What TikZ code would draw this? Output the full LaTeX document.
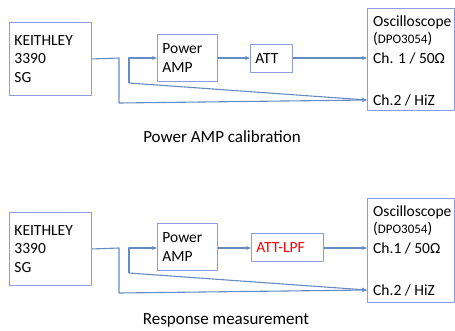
\documentclass[tikz,border=0pt]{standalone}
\usepackage{fontspec}
\setmainfont{Carlito}
\usetikzlibrary{arrows.meta,positioning}
\definecolor{boxblue}{RGB}{140,155,230}
\definecolor{wireblue}{RGB}{100,140,195}
\newcommand{\dpomodel}{({\fontsize{13}{14}\selectfont DPO3054})}
\tikzset{blk/.style={draw=boxblue,line width=0.9pt,anchor=north west,inner ysep=0pt,inner xsep=5pt,align=left},
  wire/.style={draw=wireblue,line width=1.1pt},
  port/.style={anchor=west,inner xsep=6pt,inner ysep=0pt},
  capt/.style={font=\fontsize{17}{20}\selectfont}}

\begin{document}
\begin{tikzpicture}[x=1pt,y=-1pt,>={Stealth[length=5pt,width=4pt]},line join=round,font=\fontsize{15.5}{18.5}\selectfont]
\useasboundingbox (0,0) rectangle (455,330);
% --- upper: power amp calibration
\begin{scope}
\node[blk,text width=72pt,minimum height=73pt] (sg1) at (9,22) {KEITHLEY\\3390\\SG};
\node[blk,text width=50pt,minimum height=47pt] (amp1) at (157,34) {Power\\AMP};
\node[blk,text width=32pt,minimum height=28pt] (att1) at (250,44) {ATT};
\node[blk,minimum width=87pt,minimum height=102pt,inner sep=0pt] (osc1) at (367,8) {};
\node[anchor=west,inner sep=0pt] (name1) at (373,22) {Oscilloscope};
\node[anchor=west,inner sep=0pt] (dpo1) at (373,39) {\dpomodel};
\node[port] (ch1a) at (367,58) {Ch. 1 / 50Ω};
\node[port] (ch2a) at (367,100) {Ch.2 / HiZ};
\coordinate (bend1) at (119,58); \coordinate (low1) at (119,103);
\coordinate (tap1) at (129,83); \coordinate (up1) at (129,58);
\draw[wire,->] (sg1.east) -- (bend1) -- (low1) -- (ch2a.west);
\draw[wire,->] (tap1) -- (up1) -- (amp1.west |- up1);
\draw[wire,->] (tap1) -- (ch2a.west);
\draw[wire,->] (amp1.east |- up1) -- (att1.west |- up1);
\draw[wire,->] (att1.east |- up1) -- (ch1a.west);
\node[capt] (title1) at (222,137) {Power AMP calibration};
\end{scope}
% --- lower: response measurement
\begin{scope}[yshift=-190pt]
\node[blk,text width=72pt,minimum height=73pt] (sg2) at (9,22) {KEITHLEY\\3390\\SG};
\node[blk,text width=50pt,minimum height=47pt] (amp2) at (157,33) {Power\\AMP};
\node[blk,text width=62pt,minimum height=28pt,text=red] (att2) at (251,43) {ATT-LPF};
\node[blk,minimum width=87pt,minimum height=104pt,inner sep=0pt] (osc2) at (367,8) {};
\node[anchor=west,inner sep=0pt] (name2) at (373,22) {Oscilloscope};
\node[anchor=west,inner sep=0pt] (dpo2) at (373,39) {\dpomodel};
\node[port] (ch1b) at (367,58) {Ch.1 / 50Ω};
\node[port] (ch2b) at (367,100) {Ch.2 / HiZ};
\coordinate (bend2) at (119,58); \coordinate (low2) at (119,103);
\coordinate (tap2) at (129,83); \coordinate (up2) at (129,58);
\draw[wire,->] (sg2.east) -- (bend2) -- (low2) -- (ch2b.west);
\draw[wire,->] (tap2) -- (up2) -- (amp2.west |- up2);
\draw[wire,->] (tap2) -- (ch2b.west);
\draw[wire,->] (amp2.east |- up2) -- (att2.west |- up2);
\draw[wire,->] (att2.east |- up2) -- (ch1b.west);
\node[capt] (title2) at (226,130) {Response measurement};
\end{scope}
\end{tikzpicture}
\end{document}
